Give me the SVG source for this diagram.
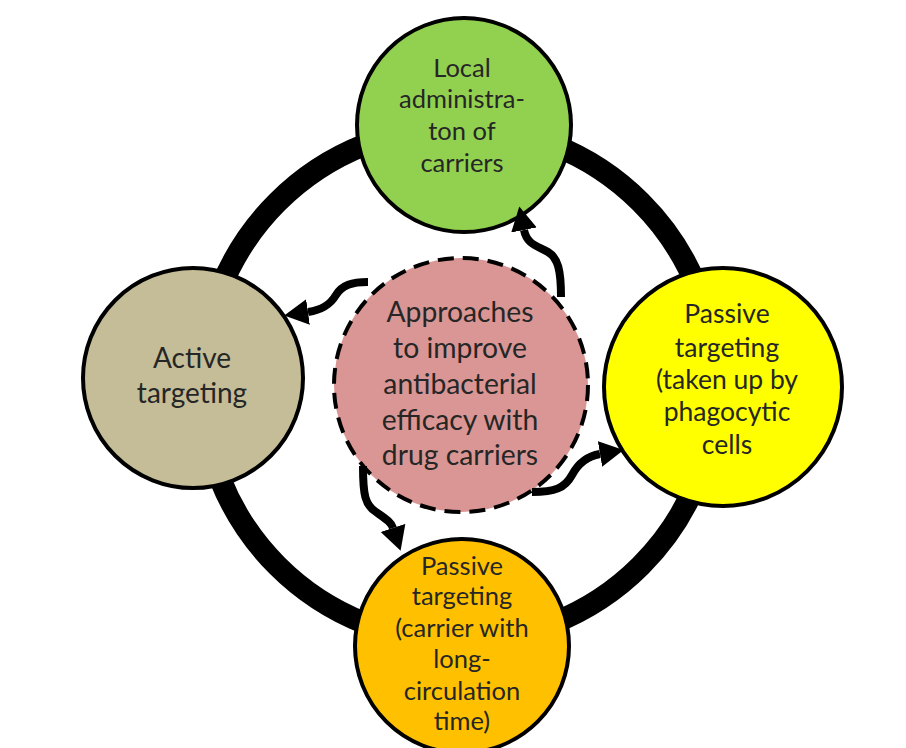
<svg xmlns="http://www.w3.org/2000/svg" width="906" height="748" viewBox="0 0 906 748">
<defs>
<style>
.node{stroke:#000;stroke-width:4}
.lbl{font-family:Lato,"Liberation Sans",sans-serif;fill:#262626;text-anchor:middle}
.arrow{fill:none;stroke:#000;stroke-width:8;stroke-linecap:butt;marker-end:url(#head)}
</style>
<marker id="head" markerUnits="userSpaceOnUse" markerWidth="26" markerHeight="28" refX="0" refY="13" orient="auto" viewBox="0 0 26 26">
<path d="M0,0 L24,13 L0,26 z" fill="#000"/>
</marker>
</defs>
<rect width="906" height="748" fill="#fff"/>
<circle cx="459" cy="384" r="257" fill="none" stroke="#000" stroke-width="22"/>
<g id="top">
<circle class="node" cx="464" cy="125" r="107" fill="#92d050"/>
<text class="lbl" font-size="25.5"><tspan x="462" y="77">Local</tspan><tspan x="462" y="108">administra-</tspan><tspan x="462" y="140">ton of</tspan><tspan x="462" y="172">carriers</tspan></text>
</g>
<g id="left">
<circle class="node" cx="193" cy="378" r="110" fill="#c4bd97"/>
<text class="lbl" font-size="28"><tspan x="192" y="368">Active</tspan><tspan x="192" y="403">targeting</tspan></text>
</g>
<g id="right">
<circle class="node" cx="723" cy="387" r="119" fill="#ffff00"/>
<text class="lbl" font-size="26.5"><tspan x="727" y="323">Passive</tspan><tspan x="727" y="357">targeting</tspan><tspan x="727" y="389">(taken up by</tspan><tspan x="727" y="421">phagocytic</tspan><tspan x="727" y="454">cells</tspan></text>
</g>
<g id="bottom">
<circle class="node" cx="462" cy="646" r="107" fill="#ffc000"/>
<text class="lbl" font-size="25.5"><tspan x="462" y="575">Passive</tspan><tspan x="462" y="605">targeting</tspan><tspan x="462" y="637">(carrier with</tspan><tspan x="462" y="668">long-</tspan><tspan x="462" y="700">circulation</tspan><tspan x="462" y="730">time)</tspan></text>
</g>
<g id="center">
<circle cx="461" cy="385" r="127" fill="#d99694" stroke="#000" stroke-width="4" stroke-dasharray="16 9"/>
<text class="lbl" font-size="28.3"><tspan x="460" y="322">Approaches</tspan><tspan x="460" y="358">to improve</tspan><tspan x="460" y="394">antibacterial</tspan><tspan x="460" y="430">efficacy with</tspan><tspan x="460" y="465">drug carriers</tspan></text>
</g>
<g id="connectors">
<path class="arrow" d="M561,297 C561,270 558,258 548,252 C538,246 527,245 524,230"/>
<path class="arrow" d="M368,282 C352,282 342,285 336,295 C330,305 322,310 308,312"/>
<path class="arrow" d="M532,492 C555,492 565,488 572,475 C579,462 588,456 600,454"/>
<path class="arrow" d="M363,466 C363,495 365,505 376,512 C386,519 391,522 393,528"/>
</g>
</svg>
